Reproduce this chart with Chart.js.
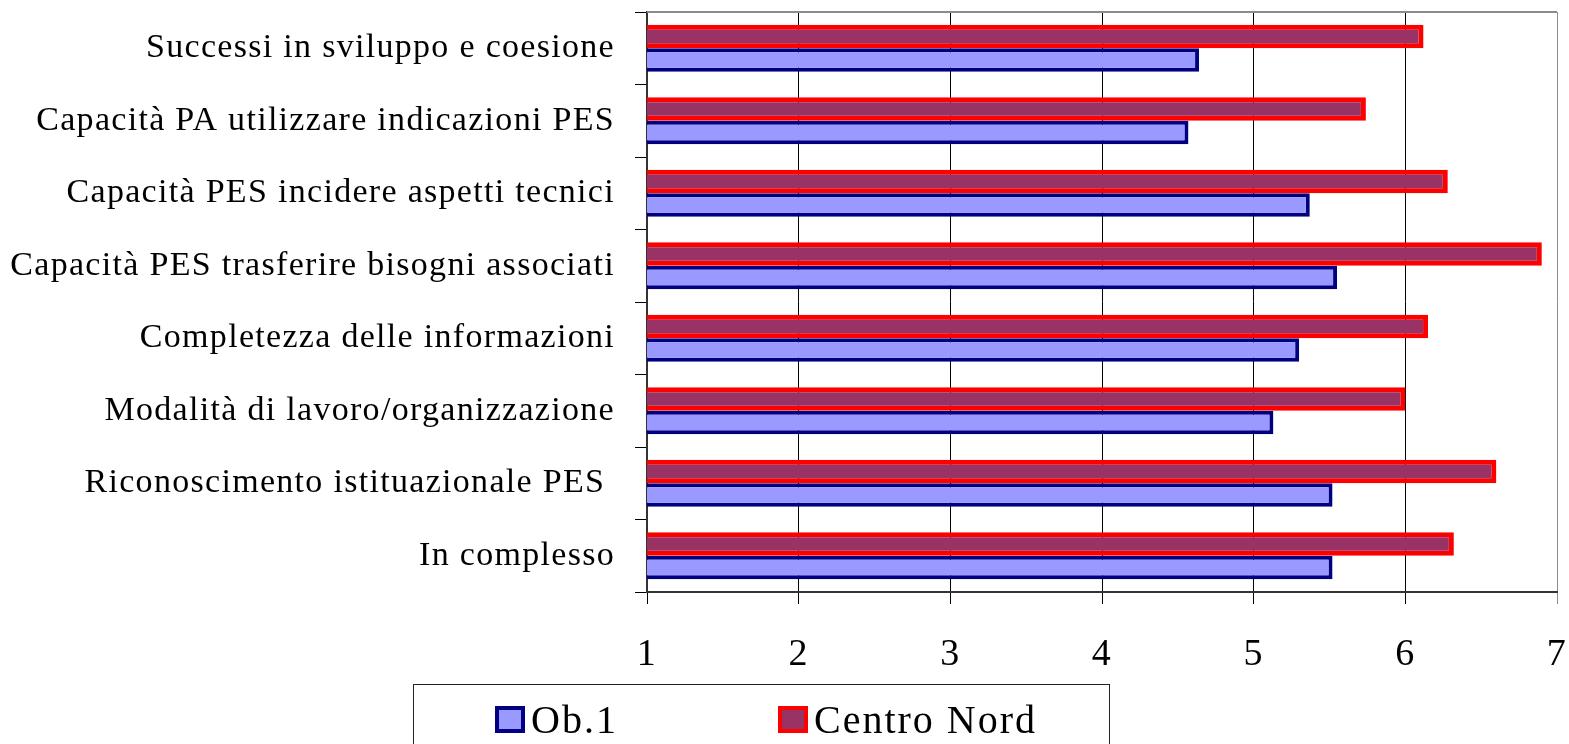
<!DOCTYPE html>
<html lang="it">
<head>
    <meta charset="UTF-8">
    <title>Valutazione PES</title>
    <script src="https://cdn.jsdelivr.net/npm/chart.js"></script>
    <style>
        body { margin: 0; background: #fff; font-family: 'Liberation Serif', 'Times New Roman', serif; }
        .wrap { position: relative; width: 1569px; height: 744px; overflow: hidden; }
        #chart { position: absolute; left: 0; top: 0; }
        .legend { position: absolute; left: 413px; top: 684px; width: 697px; height: 90px; border: 1px solid #222; box-sizing: border-box; }
        .legend .item { position: absolute; top: 11px; display: flex; align-items: center; font-size: 40px; letter-spacing: 2px; color: #000; }
        .legend .box { width: 22px; height: 19px; border-width: 4px; border-style: solid; margin-right: 6px; }
    </style>
</head>
<body>
<div class="wrap">
    <canvas id="chart" width="1569" height="744"></canvas>
    <div class="legend" id="legend"></div>
</div>
<script>
    // categories, top to bottom
    const categories = [
        'Successi in sviluppo e coesione',
        'Capacità PA utilizzare indicazioni PES',
        'Capacità PES incidere aspetti tecnici',
        'Capacità PES trasferire bisogni associati',
        'Completezza delle informazioni',
        'Modalità di lavoro/organizzazione',
        'Riconoscimento istituazionale PES ',
        'In complesso'
    ];
    const ob1 = [4.64, 4.57, 5.37, 5.55, 5.30, 5.13, 5.52, 5.52];
    const centroNord = [6.12, 5.74, 6.28, 6.90, 6.15, 6.00, 6.60, 6.32];
    const xMin = 1, xMax = 7;

    const serif = "'Liberation Serif', 'Times New Roman', serif";

    // spacing of the letters like the original
    const spacing = {
        id: 'spacing',
        beforeLayout(chart) { chart.ctx.letterSpacing = '1.3px'; },
        beforeDraw(chart) { chart.ctx.letterSpacing = '1.3px'; }
    };

    // grey frame line along the top of the plot
    const topLine = {
        id: 'topLine',
        afterDraw(chart) {
            const { ctx, chartArea } = chart;
            ctx.save();
            ctx.strokeStyle = '#8c8c8c';
            ctx.lineWidth = 2;
            ctx.beginPath();
            ctx.moveTo(chartArea.left, chartArea.top);
            ctx.lineTo(chartArea.right, chartArea.top);
            ctx.stroke();
            ctx.restore();
        }
    };

    const datasets = [
        { label: 'Centro Nord', data: centroNord, backgroundColor: '#993366', borderColor: '#ff0000', borderWidth: 5 },
        { label: 'Ob.1', data: ob1, backgroundColor: '#9999ff', borderColor: '#000080', borderWidth: 4 }
    ];

    const chart = new Chart(document.getElementById('chart'), {
        type: 'bar',
        data: {
            labels: categories,
            datasets: datasets.map(d => ({ ...d, borderSkipped: false }))
        },
        options: {
            indexAxis: 'y',
            responsive: false,
            animation: false,
            categoryPercentage: 0.65,
            barPercentage: 1,
            layout: { padding: { top: 12, right: 12, bottom: 52, left: 0 } },
            plugins: { legend: { display: false }, tooltip: { enabled: false } },
            scales: {
                x: {
                    type: 'linear',
                    min: xMin,
                    max: xMax,
                    ticks: { stepSize: 1, color: '#000', font: { family: serif, size: 38 }, padding: 28 },
                    grid: {
                        color: c => c.tick && c.tick.value === xMax ? '#8c8c8c' : '#000',
                        lineWidth: 1,
                        tickLength: 12
                    },
                    border: { color: '#333', width: 2 },
                    afterFit(scale) {
                        scale.height = 100;
                        scale.paddingLeft = 0;
                        scale.paddingRight = 0;
                    }
                },
                y: {
                    ticks: { color: '#000', font: { family: serif, size: 34 }, padding: 20 },
                    grid: { offset: true, drawOnChartArea: false, tickLength: 12, color: '#000' },
                    border: { color: '#333', width: 2 },
                    afterFit(scale) {
                        scale.width = 647;
                        scale.paddingTop = 0;
                        scale.paddingBottom = 0;
                    }
                }
            }
        },
        plugins: [spacing, topLine]
    });

    // legend box below the chart, Ob.1 first
    const legendEl = document.getElementById('legend');
    const legendLeft = [81, 364];
    [datasets[1], datasets[0]].forEach((d, i) => {
        const item = document.createElement('div');
        item.className = 'item';
        item.style.left = legendLeft[i] + 'px';
        item.innerHTML = `<span class="box" style="background:${d.backgroundColor};border-color:${d.borderColor}"></span>${d.label}`;
        legendEl.appendChild(item);
    });
</script>
</body>
</html>
